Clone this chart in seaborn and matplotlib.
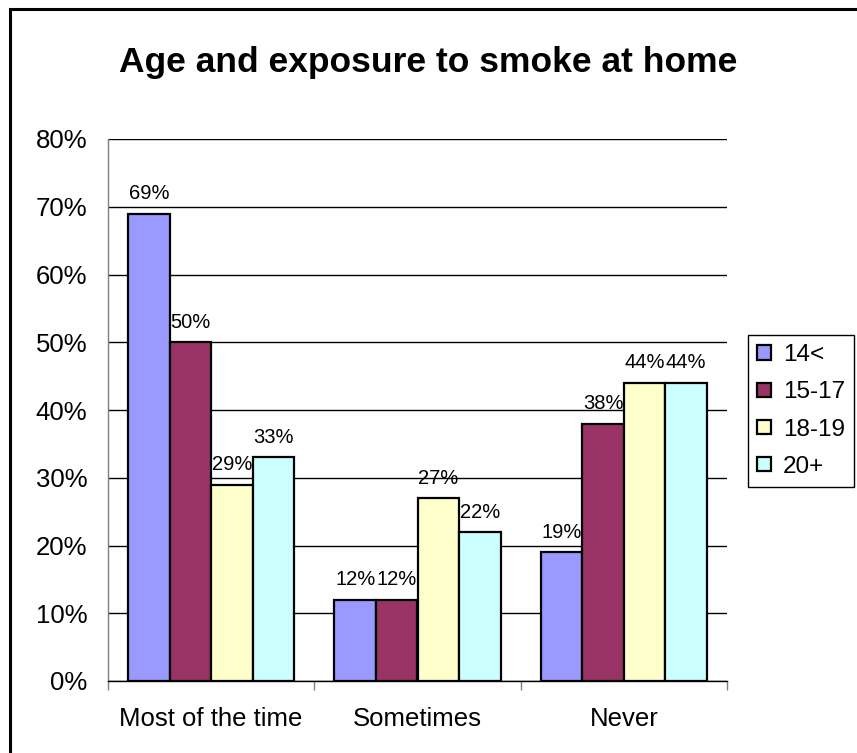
import matplotlib
matplotlib.use("Agg")
import matplotlib.pyplot as plt
import matplotlib.lines as mlines
from matplotlib.ticker import FixedLocator, FuncFormatter, NullFormatter
import pandas as pd
import seaborn as sns

# Survey answers by age group (percent of respondents)
categories = ["Most of the time", "Sometimes", "Never"]
age_groups = ["14<", "15-17", "18-19", "20+"]
share_14 = [69, 12, 19]
share_15_17 = [50, 12, 38]
share_18_19 = [29, 27, 44]
share_20_plus = [33, 22, 44]
y_ticks = [0, 10, 20, 30, 40, 50, 60, 70, 80]
palette = ["#9999FF", "#993366", "#FFFFCC", "#CCFFFF"]

series = [share_14, share_15_17, share_18_19, share_20_plus]
rows = []
for group, values in zip(age_groups, series):
    for cat, v in zip(categories, values):
        rows.append({"category": cat, "age": group, "share": v})
df = pd.DataFrame(rows)

sns.set_style("white")
plt.rcParams["font.family"] = ["Liberation Sans", "DejaVu Sans"]
plt.rcParams["text.color"] = "black"
plt.rcParams["axes.labelcolor"] = "black"
plt.rcParams["xtick.color"] = "black"
plt.rcParams["ytick.color"] = "black"

W, H = 857, 753
fig = plt.figure(figsize=(W / 100, H / 100), dpi=100)
ax = fig.add_axes([108 / W, 1 - 681 / H, 619 / W, 542 / H])

sns.barplot(
    data=df, x="category", y="share", hue="age",
    order=categories, hue_order=age_groups, palette=palette,
    saturation=1, width=0.806, edgecolor="black", linewidth=1.6,
    errorbar=None, ax=ax,
)

# value labels above each bar
for container in ax.containers:
    ax.bar_label(container, fmt="%.0f%%", padding=7.5, fontsize=14.5, color="black")

# y axis
ax.set_ylim(0, 80)
ax.yaxis.set_major_locator(FixedLocator(y_ticks))
ax.yaxis.set_major_formatter(FuncFormatter(lambda v, p: f"{v:.0f}%"))
ax.yaxis.grid(True, color="black", linewidth=1)
ax.set_axisbelow(True)
ax.tick_params(axis="y", which="major", length=5.8, width=1, color="black",
               labelcolor="black", labelsize=18.5, pad=9)

# x axis: separators between groups, labels centred on groups
ax.set_xlim(-0.5, 2.5)
ax.xaxis.set_major_locator(FixedLocator([-0.5, 0.5, 1.5, 2.5]))
ax.xaxis.set_major_formatter(NullFormatter())
ax.xaxis.set_minor_locator(FixedLocator([0, 1, 2]))
ax.xaxis.set_minor_formatter(FuncFormatter(lambda v, p: categories[int(round(v))]))
ax.tick_params(axis="x", which="major", length=6.5, width=1, color="#808080", bottom=True)
ax.tick_params(axis="x", which="minor", length=0, labelsize=18.5, pad=18.5,
               labelcolor="black", bottom=True)
ax.set_xlabel("")
ax.set_ylabel("")

for side in ("top", "right"):
    ax.spines[side].set_visible(False)
ax.spines["left"].set_color("#808080")
ax.spines["left"].set_linewidth(1)
ax.spines["bottom"].set_color("black")
ax.spines["bottom"].set_linewidth(1)

handles, labels = ax.get_legend_handles_labels()
leg = ax.legend(
    handles, labels, loc="center left",
    bbox_to_anchor=(748 / W, 1 - 411 / H), bbox_transform=fig.transFigure,
    frameon=True, fancybox=False, edgecolor="black", framealpha=1,
    fontsize=17.5, handlelength=0.55, handleheight=0.55, handletextpad=0.5,
    labelspacing=0.62, borderpad=0.38, borderaxespad=0,
)
leg.get_frame().set_linewidth(1)
for t in leg.get_texts():
    t.set_color("black")

fig.text(0.5, 1 - 72 / H, "Age and exposure to smoke at home",
         ha="center", va="baseline", fontsize=25.5, fontweight="bold", color="black")

# chart frame (left and top edges)
fig.add_artist(mlines.Line2D([9.5 / W, 9.5 / W, 1.0], [0.0, 1 - 8.5 / H, 1 - 8.5 / H],
                             transform=fig.transFigure, color="black", linewidth=2.2,
                             solid_joinstyle="miter"))

fig.savefig("out.png", dpi=100)
